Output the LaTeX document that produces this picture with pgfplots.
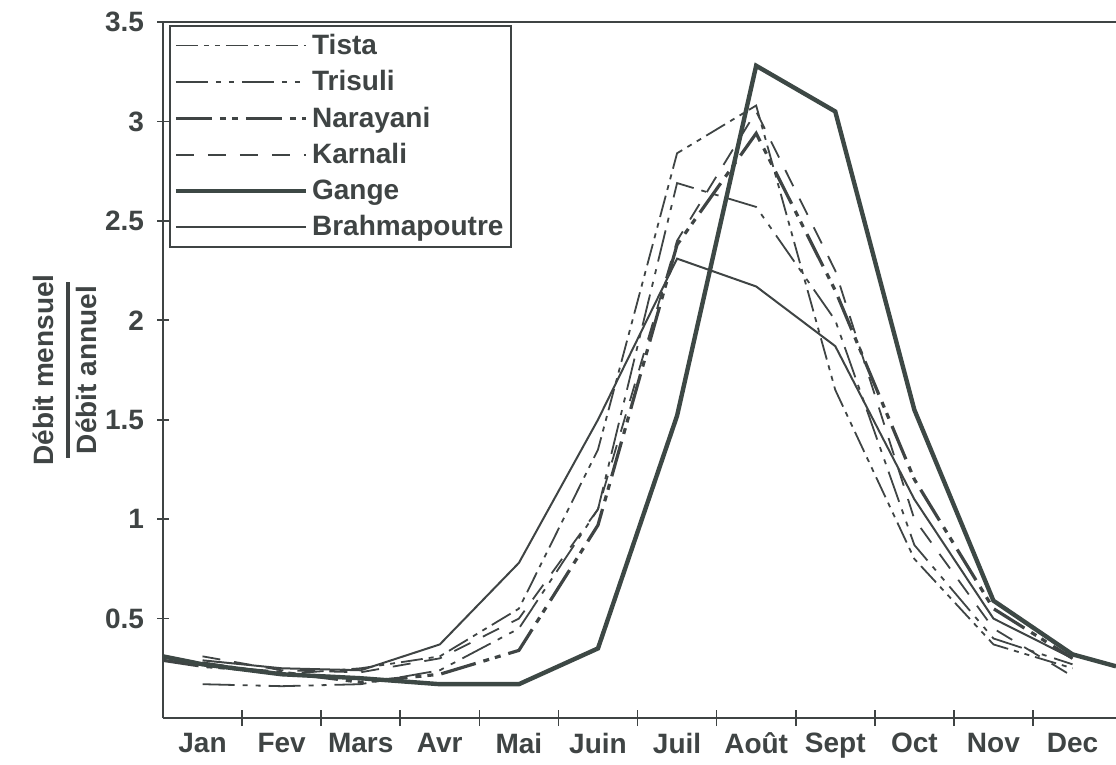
\documentclass[border=0pt]{standalone}
\usepackage{fontspec}
\setmainfont{Liberation Sans}
\usepackage{pgfplots}
\pgfplotsset{compat=1.18}
\definecolor{ink}{HTML}{3F4444}
\definecolor{gange}{HTML}{3D4845}

\pgfplotstableread{
x y
0.5 0.31
1 0.27
2 0.22
3 0.20
4 0.17
5 0.17
6 0.35
7 1.52
8 3.28
9 3.05
10 1.55
11 0.59
12 0.32
12.55 0.26
}\gange
\pgfplotstableread{
x y
0.5 0.29
1 0.26
2 0.23
3 0.18
4 0.22
5 0.34
6 0.97
7 2.38
8 2.94
9 2.15
10 1.20
11 0.55
12 0.30
}\narayani
\pgfplotstableread{
x y
1 0.29
2 0.25
3 0.24
4 0.37
5 0.78
6 1.50
7 2.31
8 2.17
9 1.87
10 1.10
11 0.50
12 0.30
}\brahma
\pgfplotstableread{
x y
1 0.31
2 0.24
3 0.23
4 0.30
5 0.50
6 1.05
7 2.40
8 3.05
9 2.25
10 1.00
11 0.45
12 0.21
}\karnali
\pgfplotstableread{
x y
1 0.28
2 0.22
3 0.25
4 0.31
5 0.55
6 1.35
7 2.84
8 3.08
9 1.65
10 0.80
11 0.37
12 0.25
}\tista
\pgfplotstableread{
x y
1 0.17
2 0.16
3 0.17
4 0.24
5 0.45
6 1.05
7 2.69
8 2.57
9 2.00
10 0.87
11 0.40
12 0.27
}\trisuli

\begin{document}
\begin{tikzpicture}
\begin{axis}[name=ax, scale only axis, width=476.5pt, height=348pt,
  xmin=0.5, xmax=12.55, ymin=0, ymax=3.5,
  axis lines*=left,
  axis line style={-, line width=1pt, ink},
  clip=true,
  xtick={1,...,12},
  xticklabels={Jan,Fev,Mars,Avr,Mai,Juin,Juil,Août,Sept,Oct,Nov,Dec},
  major x tick style={draw=none},
  minor xtick={1.5,2.5,...,11.5},
  minor tick length=8pt,
  tick align=center,
  ytick={0.5,1,1.5,2,2.5,3,3.5},
  yticklabels={0.5,1,1.5,2,2.5,3,3.5},
  major tick length=6pt,
  tick style={line width=0.8pt, ink},
  /pgf/number format/assume math mode=true,
  tick label style={font=\bfseries\fontsize{14}{16}\selectfont, text=ink},
  xticklabel style={yshift=-1pt},
  yticklabel style={xshift=-3pt},
  ylabel={\begin{tabular}{@{}c@{}}Débit mensuel\\[-6pt]\rule[2pt]{88pt}{2pt}\\[-4.5pt]Débit annuel\end{tabular}},
  ylabel style={font=\bfseries\fontsize{14}{16}\selectfont, text=ink, yshift=-7.5pt},
  legend style={at={(rel axis cs:0.006,0.996)}, anchor=north west, draw=ink, line width=1pt,
    font=\bfseries\fontsize{14}{16}\selectfont, text=ink, row sep=2.6pt,
    inner xsep=2pt, inner ysep=2pt},
  legend cell align=left,
  legend image code/.code={\draw[#1] (0pt,0pt) -- (65pt,0pt);},
]
\addplot[ink, line width=0.9pt, dash pattern=on 11pt off 3pt on 2.5pt off 3pt on 2.5pt off 3pt] table {\tista};
\addlegendentry{Tista}
\addplot[ink, line width=0.9pt, dash pattern=on 16pt off 4pt on 2.5pt off 4pt on 2.5pt off 4pt] table {\trisuli};
\addlegendentry{Trisuli}
\addplot[ink, line width=1.6pt, dash pattern=on 18pt off 4pt on 3pt off 3pt on 3pt off 4pt] table {\narayani};
\addlegendentry{Narayani}
\addplot[ink, line width=0.9pt, dash pattern=on 9pt off 7pt] table {\karnali};
\addlegendentry{Karnali}
\addplot[gange, line width=2.2pt] table {\gange};
\addlegendentry{Gange}
\addplot[ink, line width=1pt] table {\brahma};
\addlegendentry{Brahmapoutre}
\draw[ink, line width=1pt] (rel axis cs:0,1) -- (rel axis cs:1,1);
\end{axis}
\pgfresetboundingbox
\path (ax.south west) ++(-81.5pt,-23pt) coordinate (bl);
\path (ax.north east) ++(0pt,11pt) coordinate (tr);
\path (bl) rectangle (tr);
\end{tikzpicture}
\end{document}
